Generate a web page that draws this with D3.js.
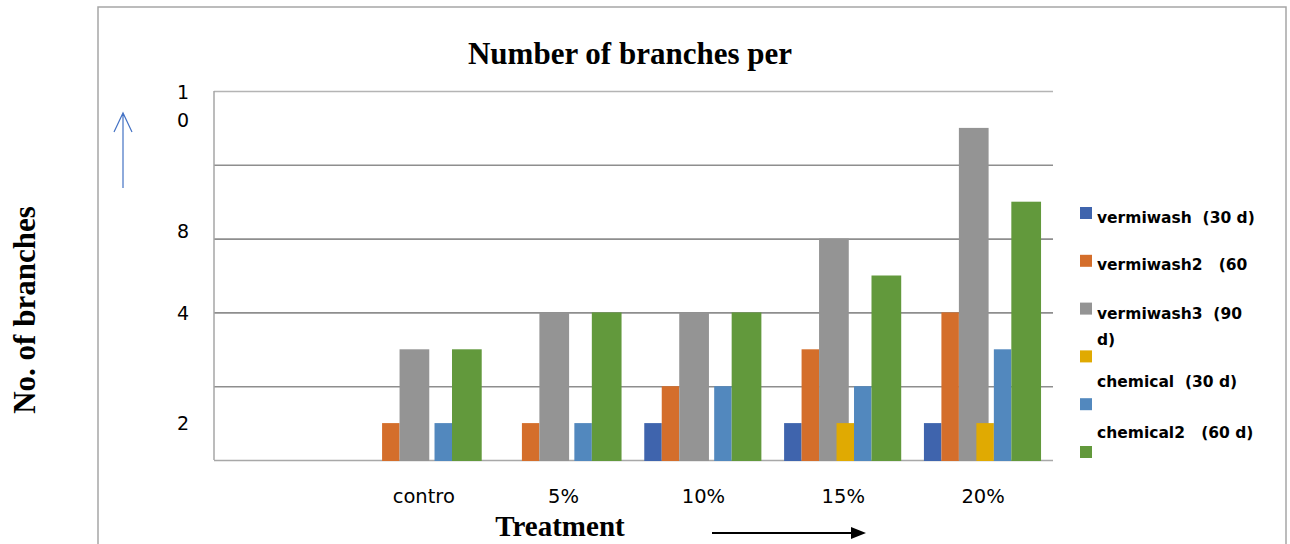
<!DOCTYPE html>
<html>
<head>
<meta charset="utf-8">
<script src="https://cdn.jsdelivr.net/npm/d3@7/dist/d3.min.js"></script>
<style>
  body { margin: 0; background: #fff; }
  svg { display: block; }
</style>
</head>
<body>
<svg id="chart" width="1290" height="544"></svg>
<script>
// ---------- data ----------
const categories = ["", "contro", "5%", "10%", "15%", "20%"];
const seriesKeys = ["vermiwash", "vermiwash2", "vermiwash3", "chemical0", "chemical", "chemical2"];
const vermiwash   = [null, 0, 0, 1, 1, 1];
const vermiwash2  = [null, 1, 1, 2, 3, 4];
const vermiwash3  = [null, 3, 4, 4, 6, 9];
const chemical0   = [null, 0, 0, 0, 1, 1];
const chemical    = [null, 1, 1, 2, 2, 3];
const chemical2   = [null, 3, 4, 4, 5, 7];
const seriesColors = ["#3F64AD", "#D46E2B", "#949494", "#E0AA02", "#5288BE", "#62993C"];
const legendLabels = ["vermiwash  (30 d)", "vermiwash2   (60", "vermiwash3  (90|d)", "chemical  (30 d)", "chemical2   (60 d)"];
const gridValues = [0, 2, 4, 6, 8, 10];
const yTickValues = [1, 4, 6.2, 9.6];
const yTickLabels = ["2", "4", "8", "10"];
const title = "Number of branches per";
const xTitle = "Treatment";
const yTitle = "No. of branches";

const seriesValues = [vermiwash, vermiwash2, vermiwash3, chemical0, chemical, chemical2];

// ---------- layout ----------
const svg = d3.select("#chart");
const pLeft = 214, pRight = 1053, pTop = 91, pBottom = 460;

// outer frame
svg.append("path")
  .attr("d", "M98,548 V7 H1286 V548")
  .attr("fill", "none").attr("stroke", "#a6a6a6").attr("stroke-width", 1.5);

const x = d3.scaleBand().domain(categories).range([pLeft, pRight]).paddingInner(0).paddingOuter(0);
const y = d3.scaleLinear().domain([0, 10]).range([pBottom, pTop]);

// gridlines
const grid = svg.append("g").attr("transform", `translate(${pLeft},0)`)
  .call(d3.axisLeft(y).tickValues(gridValues).tickSize(-(pRight - pLeft)).tickFormat(""));
grid.select(".domain").remove();
grid.selectAll(".tick line")
  .attr("stroke", d => d === 10 ? "#b4b4b4" : (d === 0 ? "#a8a8a8" : "#8e8e8e"))
  .attr("stroke-width", 1.6);

// left axis line
svg.append("line").attr("x1", pLeft).attr("x2", pLeft).attr("y1", y(10)).attr("y2", y(0))
  .attr("stroke", "#a6a6a6").attr("stroke-width", 1.5);

// bars
const slot = x.bandwidth() / 8;
const offset = x.bandwidth() * 0.077;
const inner = d3.scaleBand().domain(seriesKeys).range([offset, offset + slot * 6]).padding(0);
const wide = new Set(["vermiwash3", "chemical2"]);

seriesKeys.forEach((key, si) => {
  const vals = seriesValues[si];
  svg.append("g").selectAll("rect")
    .data(categories.map((c, i) => ({ c, v: vals[i] })).filter(d => d.v != null && d.v > 0))
    .join("rect")
    .attr("x", d => x(d.c) + inner(key))
    .attr("y", d => y(d.v))
    .attr("width", wide.has(key) ? inner.bandwidth() * 1.7 : inner.bandwidth())
    .attr("height", d => y(0) - y(d.v) + 1)
    .attr("fill", seriesColors[si]);
});

// y tick labels
const yAx = svg.append("g").attr("transform", `translate(${pLeft},0)`)
  .call(d3.axisLeft(y).tickValues(yTickValues).tickSize(0)
    .tickFormat((d, i) => yTickLabels[i]));
yAx.select(".domain").remove();
yAx.selectAll(".tick text")
  .attr("x", -31).attr("dy", "0.35em")
  .attr("text-anchor", "middle")
  .attr("font-family", "DejaVu Sans").attr("font-size", 19).attr("fill", "#000")
  .each(function(d, i) {
    const lab = yTickLabels[i];
    if (lab.length > 1) {
      const t = d3.select(this).text(null);
      t.append("tspan").attr("x", -31).attr("dy", "-0.38em").text(lab[0]);
      t.append("tspan").attr("x", -31).attr("dy", "1.45em").text(lab[1]);
    }
  });

// x tick labels
const xAx = svg.append("g").attr("transform", `translate(0,${pBottom})`)
  .call(d3.axisBottom(x).tickSize(0));
xAx.select(".domain").remove();
xAx.selectAll(".tick text")
  .attr("y", 43).attr("dy", 0)
  .attr("font-family", "DejaVu Sans").attr("font-size", 19.5).attr("fill", "#000");

// title
svg.append("text").attr("x", 630).attr("y", 64).attr("text-anchor", "middle")
  .attr("font-family", "Liberation Serif").attr("font-weight", "bold").attr("font-size", 31)
  .text(title);

// x title
svg.append("text").attr("x", 560).attr("y", 536).attr("text-anchor", "middle")
  .attr("font-family", "Liberation Serif").attr("font-weight", "bold").attr("font-size", 29)
  .text(xTitle);

// y title
svg.append("text").attr("transform", "translate(35,310) rotate(-90)").attr("text-anchor", "middle")
  .attr("font-family", "Liberation Serif").attr("font-weight", "bold").attr("font-size", 31)
  .text(yTitle);

// blue arrow (up)
svg.append("path").attr("d", "M123,188 V113 M114,132 L123,113 L132,132")
  .attr("fill", "none").attr("stroke", "#4472C4").attr("stroke-width", 1.2);

// black arrow (right)
svg.append("line").attr("x1", 712).attr("x2", 853).attr("y1", 533).attr("y2", 533)
  .attr("stroke", "#000").attr("stroke-width", 2.2);
svg.append("path").attr("d", "M851,527 L866,533 L851,539 Z").attr("fill", "#000");

// legend
const legY0 = 207, legStep = 47.8;
const leg = svg.append("g");
seriesColors.forEach((col, i) => {
  leg.append("rect").attr("x", 1080).attr("y", legY0 + i * legStep)
    .attr("width", 12).attr("height", 12).attr("fill", col);
});
const textOffsets = [16, 15, 16, 37, 40];
legendLabels.forEach((lab, i) => {
  const parts = lab.split("|");
  const t = leg.append("text").attr("x", 1097).attr("y", legY0 + i * legStep + textOffsets[i])
    .attr("font-family", "DejaVu Sans").attr("font-weight", "bold").attr("font-size", 15.5)
    .attr("fill", "#000").style("white-space", "pre");
  parts.forEach((p, j) => {
    t.append("tspan").attr("x", 1097).attr("dy", j === 0 ? 0 : 26).text(p);
  });
});
</script>
</body>
</html>
